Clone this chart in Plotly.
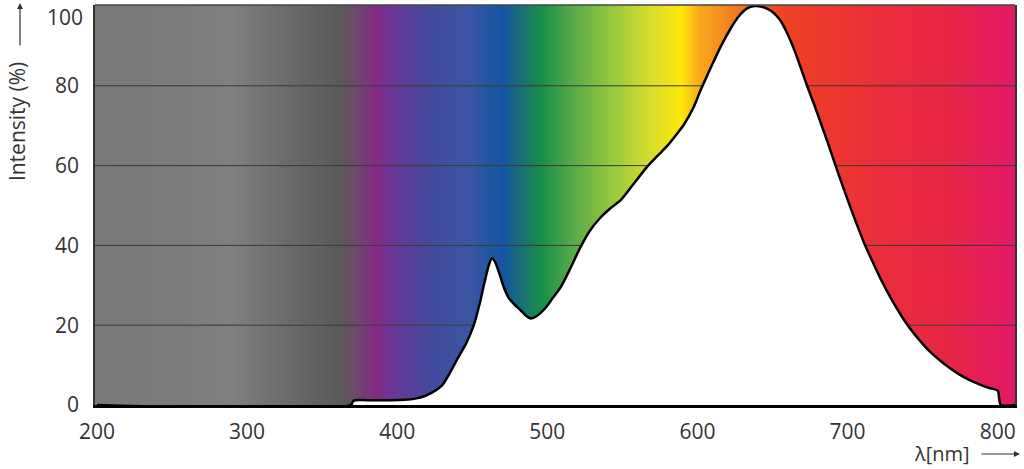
import numpy as np
import plotly.graph_objects as go

# spectrum curve (wavelength in nm, relative intensity in %)
wavelength = [200, 369, 371, 380, 395, 405, 412, 418, 424, 430, 435, 440, 446, 451,
              455, 458, 461, 463, 465, 468, 471, 474, 478, 482, 486, 489, 493, 498,
              503, 509, 515, 522, 528, 535, 542, 549, 557, 566, 573, 580, 586, 591,
              597, 602, 607, 611, 616, 622, 627, 633, 638, 642, 646, 651, 655, 660,
              665, 669, 673, 678, 682, 687, 692, 697, 702, 706, 711, 716, 722, 730,
              740, 748, 755, 764, 773, 781, 789, 795, 800, 801, 802, 812]
intensity = [0, 0, 1.1, 1.2, 1.2, 1.3, 1.6, 2.2, 3.3, 5, 8, 11.5, 15.5, 20,
             25.5, 30.5, 35, 36.8, 36, 33, 29.5, 27, 25.2, 23.8, 22.3, 21.7, 22.3, 24,
             26.5, 29.6, 34, 39.5, 43.5, 46.8, 49.3, 51.4, 55.2, 59.5, 62.3, 65, 67.8, 70.3,
             74.3, 78.8, 83, 86.3, 90.2, 94.3, 97.2, 99.4, 100, 99.9, 99.4, 98.2, 96.5, 93,
             88.5, 84.3, 80, 75, 70.8, 65.5, 60, 54.6, 49.4, 45.4, 40.6, 36.4, 31.6, 26,
             20, 16.2, 13.3, 10.4, 8, 6.3, 5, 4.2, 3.6, 1.5, 0, 0]

# background spectrum colour stops
stop_nm = [198, 250, 289, 322, 350, 362, 372, 386, 395, 422, 449, 471, 484, 496,
           515, 544, 567, 589, 602, 612, 635, 660, 722, 770, 812]
stop_col = ["#797979", "#7b7b7b", "#7f807f", "#6c6e6c", "#5e605e", "#585a58",
            "#6a4a6a", "#842a80", "#6e3496", "#434a9c", "#3a55a3", "#1255a0",
            "#1a7272", "#178e47", "#52a748", "#97c93e", "#d4dc2e", "#fee80a",
            "#f8a61c", "#f6951d", "#f26522", "#ee4124", "#ea2d3a", "#e72547",
            "#e31868"]

x_ticks = [200, 300, 400, 500, 600, 700, 800]
y_ticks = [0, 20, 40, 60, 80]
y_top_label = "100"
grid_y = [20, 40, 60, 80]

x_range = [198.7, 811.5]
y_range = [0, 100.25]

lo, hi = stop_nm[0], stop_nm[-1]
colorscale = [[(n - lo) / (hi - lo), c] for n, c in zip(stop_nm, stop_col)]
xs = np.arange(lo, hi + 1, 1.0)

fig = go.Figure()
fig.add_trace(go.Heatmap(x=xs, y=[0, 101], z=[xs, xs], colorscale=colorscale,
                         zmin=lo, zmax=hi, showscale=False, hoverinfo="skip"))
for g in grid_y:
    fig.add_trace(go.Scatter(x=x_range, y=[g, g], mode="lines",
                             line=dict(color="#3a3a3a", width=1), hoverinfo="skip"))
fig.add_trace(go.Scatter(x=wavelength, y=intensity, mode="lines", fill="tozeroy",
                         fillcolor="white",
                         line=dict(color="black", width=2.5, shape="spline", smoothing=0.8)))

font = dict(family="Open Sans", size=21, color="#333")
fig.update_layout(
    width=1024, height=469,
    margin=dict(l=95, r=9, t=5, b=64, autoexpand=False),
    paper_bgcolor="white", plot_bgcolor="white",
    showlegend=False,
    font=font,
)
fig.update_xaxes(range=x_range, tickvals=x_ticks, showgrid=False, zeroline=False,
                 showline=True, linecolor="black", linewidth=3, ticks="",
                 ticklabelstandoff=6, tickfont=font, automargin=False)
fig.update_yaxes(range=y_range, tickvals=y_ticks, showgrid=False, zeroline=False,
                 showline=True, linecolor="#333", linewidth=1.5, mirror=True, ticks="",
                 ticklabelstandoff=10, tickfont=font, automargin=False)
fig.add_shape(type="line", xref="paper", yref="paper", x0=0, x1=1, y0=1, y1=1,
              line=dict(color="#444", width=1.5))

# top tick label sits a little lower so it stays inside the page
fig.add_annotation(text=y_top_label, xref="paper", yref="paper", x=0, y=1,
                   xanchor="right", yanchor="top", xshift=-10, yshift=4,
                   showarrow=False, font=font)
fig.add_annotation(text="Intensity (%)", xref="paper", yref="paper", x=-0.084, y=0.709,
                   xanchor="center", yanchor="middle",
                   textangle=-90, showarrow=False, font=dict(family="Open Sans", size=21, color="#333"))
fig.add_annotation(text="", xref="paper", yref="paper", x=-0.0815, y=1.005, ax=0, ay=44,
                   showarrow=True, arrowhead=2, arrowsize=1, arrowwidth=1.2, arrowcolor="#333")
fig.add_annotation(text="λ[nm]", xref="paper", yref="paper", x=0.9207, y=-0.12,
                   xanchor="center", yanchor="middle",
                   showarrow=False, font=dict(family="Open Sans", size=20, color="#333"))
fig.add_annotation(text="", xref="paper", yref="paper", x=1.0054, y=-0.1225, ax=-40, ay=0,
                   showarrow=True, arrowhead=2, arrowsize=1, arrowwidth=1.2, arrowcolor="#333")

fig.write_html("out.html", config={"displayModeBar": False},
               post_script="document.body.style.margin='0';")
